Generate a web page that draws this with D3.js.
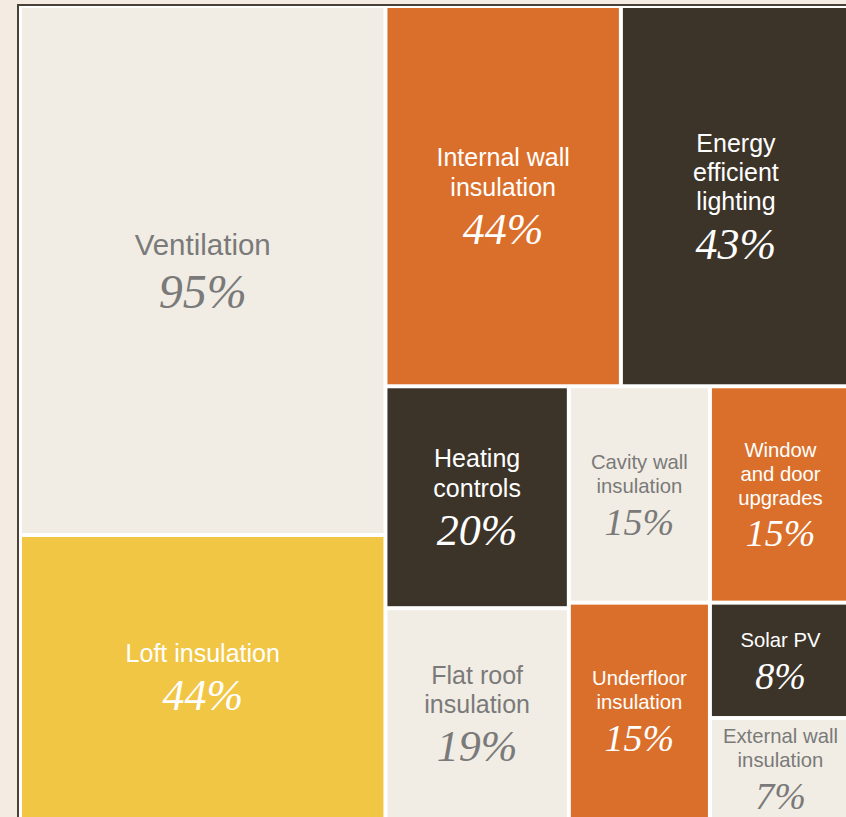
<!DOCTYPE html>
<html>
<head>
<meta charset="utf-8">
<script src="https://cdn.jsdelivr.net/npm/d3@7"></script>
<style>
  html, body { margin: 0; padding: 0; background: #f4ece2; overflow: hidden; }
  svg { display: block; }
</style>
</head>
<body>
<svg id="chart" width="846" height="817"></svg>
<script>
// ---- data ----
const categories = [
  "Ventilation", "Loft insulation", "Internal wall insulation", "Energy efficient lighting",
  "Heating controls", "Flat roof insulation", "Cavity wall insulation", "Window and door upgrades",
  "Underfloor insulation", "Solar PV", "External wall insulation"
];
// percentage shown in each tile
const percents = [95, 44, 44, 43, 20, 19, 15, 15, 15, 8, 7];
// relative tile areas
const areas = [95, 51, 44, 43, 20, 19, 15, 15, 15, 8, 7];
// wrapped label lines
const labelLines = [
  ["Ventilation"], ["Loft insulation"], ["Internal wall", "insulation"], ["Energy", "efficient", "lighting"],
  ["Heating", "controls"], ["Flat roof", "insulation"], ["Cavity wall", "insulation"], ["Window", "and door", "upgrades"],
  ["Underfloor", "insulation"], ["Solar PV"], ["External wall", "insulation"]
];
const colorGroups = ["light", "yellow", "orange", "dark", "dark", "light", "light", "orange", "orange", "dark", "light"];

// ---- styles ----
const fill = d3.scaleOrdinal()
  .domain(["light", "yellow", "orange", "dark"])
  .range(["#f1ede4", "#f1c644", "#da6f2b", "#3d3429"]);
const textColor = g => g === "light" ? "#7a7a7a" : "#ffffff";

const svg = d3.select("#chart");

// frame
svg.append("rect")
  .attr("x", 18).attr("y", 5)
  .attr("width", 900).attr("height", 900)
  .attr("fill", "#ffffff")
  .attr("stroke", "#4a4236").attr("stroke-width", 2);

const W = 827, H = 809;
const data = categories.map((c, i) => ({
  name: c, pct: percents[i], area: areas[i], lines: labelLines[i], group: colorGroups[i]
}));

const root = d3.hierarchy({ children: data })
  .sum(d => d.area || 0)
  .sort((a, b) => b.value - a.value);

d3.treemap()
  .tile(d3.treemapSquarify.ratio(1))
  .size([W, H])
  .paddingInner(4)
  .round(false)(root);

const g = svg.append("g").attr("transform", "translate(22,8)");

const cell = g.selectAll("g.cell")
  .data(root.leaves())
  .join("g")
  .attr("class", "cell");

cell.append("rect")
  .attr("x", d => d.x0).attr("y", d => d.y0)
  .attr("width", d => d.x1 - d.x0).attr("height", d => d.y1 - d.y0)
  .attr("fill", d => fill(d.data.group));

cell.each(function (d) {
  const w = d.x1 - d.x0, h = d.y1 - d.y0;
  const m = Math.min(w, h);
  let f, pf;
  if (m >= 350) { f = 29.5; pf = 48; }
  else if (m >= 170) { f = 25; pf = 44; }
  else { f = 20.3; pf = 38; }
  const lh = f * 1.17;
  const gap = pf * 1.1;
  const n = d.data.lines.length;
  // relative positions (baseline of first label = 0)
  const top = -0.72 * f;
  const pctBase = (n - 1) * lh + gap;
  const bottom = pctBase;
  const cx = (d.x0 + d.x1) / 2;
  const cy = (d.y0 + d.y1) / 2;
  const b0 = cy - (top + bottom) / 2;
  const col = textColor(d.data.group);
  const sel = d3.select(this);
  d.data.lines.forEach((ln, i) => {
    sel.append("text")
      .attr("x", cx).attr("y", b0 + i * lh)
      .attr("text-anchor", "middle")
      .attr("font-family", "'Liberation Sans', Arial, sans-serif")
      .attr("font-size", f)
      .attr("fill", col)
      .text(ln);
  });
  sel.append("text")
    .attr("x", cx).attr("y", b0 + pctBase)
    .attr("text-anchor", "middle")
    .attr("font-family", "'Liberation Serif', 'Times New Roman', serif")
    .attr("font-style", "italic")
    .attr("font-size", pf)
    .attr("fill", col)
    .text(d.data.pct + "%");
});
</script>
</body>
</html>
